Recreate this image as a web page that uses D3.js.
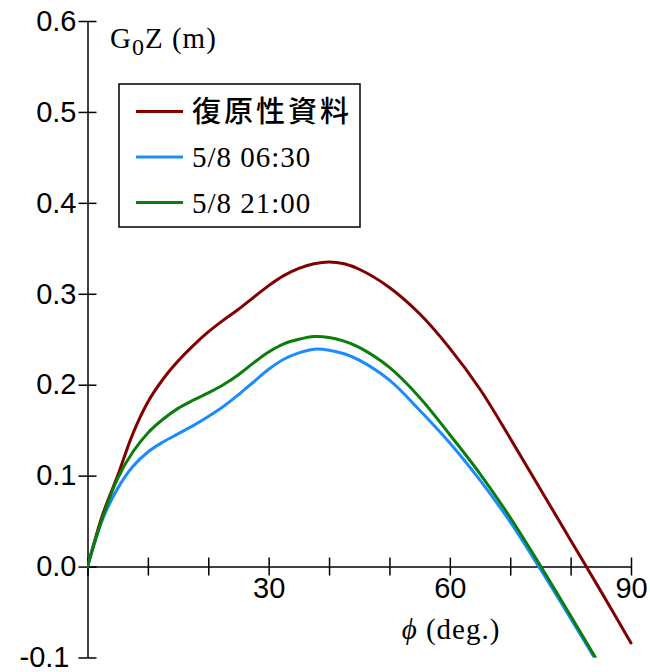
<!DOCTYPE html>
<html>
<head>
<meta charset="utf-8">
<script src="https://cdn.jsdelivr.net/npm/d3@7"></script>
<style>
    body { margin: 0; background: #fff; }
    .tick line, .domain { stroke: #000; stroke-width: 1.5; }
</style>
</head>
<body>
<svg id="chart" width="650" height="672"></svg>
<script>
// heel angle (deg.) and GZ values
var phi = [0, 2.5, 5, 7.5, 10, 12.5, 15, 17.5, 20, 22.5, 25, 27.5, 30, 32.5, 35, 37.5, 40, 42.5, 45, 50, 55, 60, 65, 70, 75, 80, 85, 90];
var gzRestoring = [0, 0.057, 0.100, 0.146, 0.181, 0.206, 0.226, 0.243, 0.258, 0.271, 0.283, 0.296, 0.309, 0.320, 0.328, 0.333, 0.335, 0.333, 0.327, 0.307, 0.278, 0.240, 0.195, 0.141, 0.085, 0.029, -0.027, -0.084];
var gz0630 = [0, 0.052, 0.086, 0.110, 0.126, 0.137, 0.146, 0.155, 0.165, 0.176, 0.189, 0.203, 0.217, 0.228, 0.235, 0.239, 0.238, 0.234, 0.227, 0.205, 0.172, 0.136, 0.095, 0.049, -0.003, -0.057, -0.112, null];
var gz2100 = [0, 0.054, 0.097, 0.126, 0.147, 0.162, 0.174, 0.183, 0.191, 0.200, 0.211, 0.224, 0.236, 0.245, 0.250, 0.253, 0.252, 0.248, 0.241, 0.219, 0.186, 0.145, 0.102, 0.054, 0.001, -0.054, -0.110, null];
var seriesNames = ["復原性資料", "5/8 06:30", "5/8 21:00"];
var seriesColors = ["#800000", "#1a8cff", "#0b7d0b"];

var xTicks = [0, 10, 20, 30, 40, 50, 60, 70, 80, 90];
var xTickLabels = [30, 60, 90];
var yTicks = [-0.1, 0, 0.1, 0.2, 0.3, 0.4, 0.5, 0.6];

var sansFont = "'Liberation Sans', Arial, sans-serif";
var serifFont = "'Liberation Serif', 'Times New Roman', serif";

var svg = d3.select("#chart");

var x = d3.scaleLinear().domain([0, 90]).range([87.5, 631]);
var y = d3.scaleLinear().domain([-0.1, 0.6]).range([657.5, 21]);

// y axis, ticks cross the line
var yAxis = svg.append("g")
    .attr("transform", "translate(" + x(0) + ",0)")
    .call(d3.axisLeft(y).tickValues(yTicks).tickSize(9).tickSizeOuter(0).tickPadding(2)
        .tickFormat(function (d) { return d3.format(".1f")(d).replace("−", "-"); }));
svg.append("g")
    .attr("transform", "translate(" + x(0) + ",0)")
    .call(d3.axisRight(y).tickValues(yTicks).tickSize(9).tickSizeOuter(0).tickFormat(""))
    .select(".domain").remove();
yAxis.selectAll("text")
    .attr("font-family", sansFont)
    .attr("font-size", 29)
    .attr("fill", "#000")
    .attr("dx", function (d) { return d < 0 ? -7 : 0; });

// x axis along GZ = 0
var xAxis = svg.append("g")
    .attr("transform", "translate(0," + y(0) + ")")
    .call(d3.axisBottom(x).tickValues(xTicks).tickSize(9).tickSizeOuter(0).tickPadding(2)
        .tickFormat(function (d) { return xTickLabels.indexOf(d) >= 0 ? d : ""; }));
svg.append("g")
    .attr("transform", "translate(0," + y(0) + ")")
    .call(d3.axisTop(x).tickValues(xTicks).tickSize(9).tickSizeOuter(0).tickFormat(""))
    .select(".domain").remove();
xAxis.selectAll("text")
    .attr("font-family", sansFont)
    .attr("font-size", 29)
    .attr("fill", "#000");

// axis titles
var yTitle = svg.append("text")
    .attr("x", 110).attr("y", 48)
    .attr("font-family", serifFont)
    .attr("font-size", 29)
    .attr("letter-spacing", 1);
yTitle.append("tspan").text("G");
yTitle.append("tspan").attr("font-size", 24).attr("dy", 7).text("0");
yTitle.append("tspan").attr("dy", -7).text("Z (m)");

var xTitle = svg.append("text")
    .attr("x", 451).attr("y", 639)
    .attr("text-anchor", "middle")
    .attr("font-family", serifFont)
    .attr("font-size", 29)
    .attr("letter-spacing", 1);
xTitle.append("tspan").attr("font-style", "italic").text("ϕ");
xTitle.append("tspan").text(" (deg.)");

// curves
svg.append("clipPath").attr("id", "plot-clip")
    .append("rect")
    .attr("x", x(0)).attr("y", y(0.6))
    .attr("width", x(90) - x(0) + 6).attr("height", y(-0.1) - y(0.6));

var seriesValues = [gzRestoring, gz0630, gz2100];
var line = d3.line()
    .defined(function (d) { return d[1] !== null; })
    .x(function (d) { return x(d[0]); })
    .y(function (d) { return y(d[1]); })
    .curve(d3.curveCatmullRom.alpha(0.5));

svg.append("g").attr("clip-path", "url(#plot-clip)")
    .selectAll("path")
    .data(seriesValues)
    .enter().append("path")
    .attr("d", function (vals) { return line(phi.map(function (p, i) { return [p, vals[i]]; })); })
    .attr("fill", "none")
    .attr("stroke", function (d, i) { return seriesColors[i]; })
    .attr("stroke-width", 3)
    .attr("stroke-linecap", "round");

// legend
var legend = svg.append("g");
legend.append("rect")
    .attr("x", 119).attr("y", 84)
    .attr("width", 241).attr("height", 143)
    .attr("fill", "#fff").attr("stroke", "#000").attr("stroke-width", 1.5);

var rows = legend.selectAll(".legend-row")
    .data(seriesNames)
    .enter().append("g")
    .attr("class", "legend-row")
    .attr("transform", function (d, i) { return "translate(0," + (111.5 + i * 45.5) + ")"; });
rows.append("line")
    .attr("x1", 136).attr("x2", 183)
    .attr("stroke", function (d, i) { return seriesColors[i]; })
    .attr("stroke-width", 3);
rows.append("text")
    .attr("x", 192)
    .attr("y", 10)
    .attr("font-family", function (d, i) { return i === 0 ? "'Noto Sans CJK JP', sans-serif" : serifFont; })
    .attr("font-weight", function (d, i) { return i === 0 ? 500 : 400; })
    .attr("font-size", 29)
    .attr("letter-spacing", function (d, i) { return i === 0 ? 3 : 1; })
    .text(function (d) { return d; });
</script>
</body>
</html>
